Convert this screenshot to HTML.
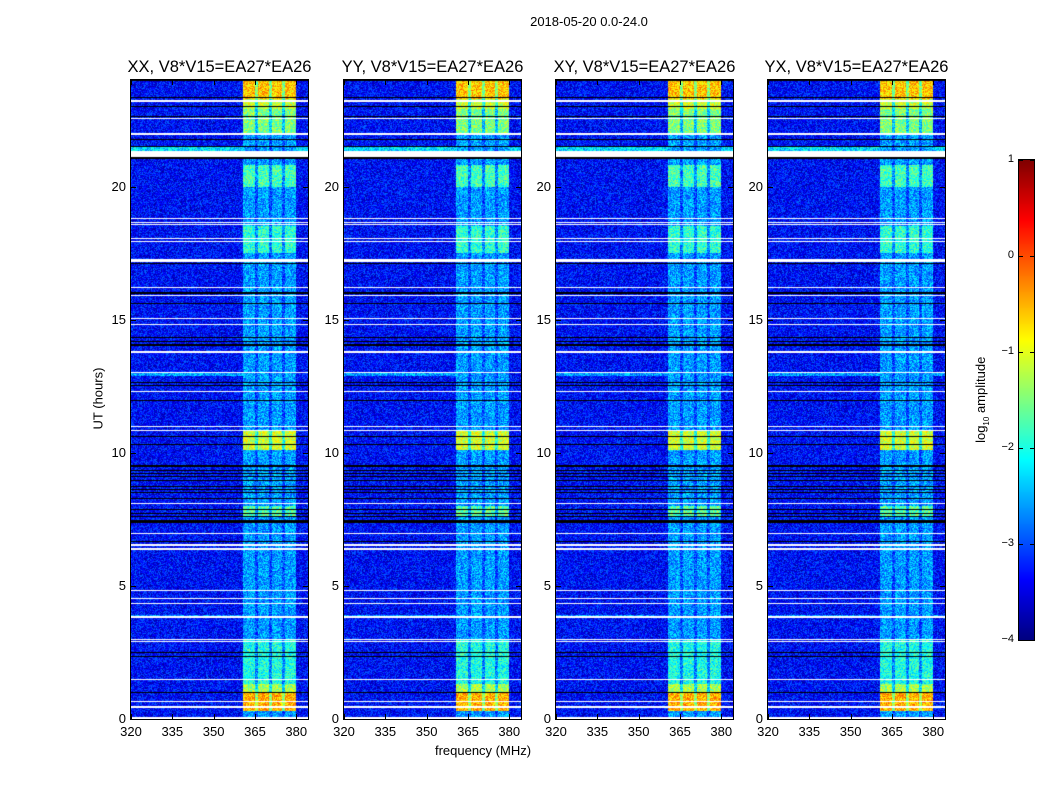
<!DOCTYPE html>
<html><head><meta charset="utf-8">
<style>
body{margin:0;background:#fff;font-family:"Liberation Sans",sans-serif;}
#fig{position:relative;width:1050px;height:800px;background:#fff;overflow:hidden;}
.t{position:absolute;white-space:nowrap;color:#000;}
canvas{position:absolute;}
</style></head>
<body>
<div id="fig">
<div class="t" style="left:489px;top:14px;width:200px;text-align:center;font-size:13px;">2018-05-20 0.0-24.0</div>
<div class="t" style="left:383px;top:743px;width:200px;text-align:center;font-size:13px;">frequency (MHz)</div>
<div class="t" style="left:48px;top:391px;width:100px;text-align:center;font-size:13px;transform:rotate(-90deg);">UT (hours)</div>
<div class="t" style="left:922px;top:391px;width:120px;text-align:center;font-size:13px;transform:rotate(-90deg);">log<sub style="font-size:8px">10</sub> amplitude</div>
</div>
<script>
const categories=['XX','YY','XY','YX'];
const panelLeft=[131,344,556,768];
const xTicks=[320,335,350,365,380];
const yTicks=[0,5,10,15,20];
const cbTicks=[1,0,-1,-2,-3,-4];
const baseLevel=-3.35;
const bandLevel=-2.6;
const gapLevel=-3.0;
const subBands=[[360.7,365.0],[366.2,370.2],[371.3,374.8],[376.0,379.8]];
const brightSegments=[[23.3,24,-0.6],[22.9,23.3,-1.1],[22.0,22.9,-1.5],[20.0,20.8,-1.8],[17.5,18.5,-1.9],[10.1,10.8,-1.1],[0.3,1.0,-0.5],[1.0,1.3,-1.3],[1.3,3.0,-2.0],[7.6,8.0,-1.7]];
const cyanRows=[[21.35,21.5,-2.3],[3.78,3.9,-2.7],[12.9,13.05,-2.6]];
const whiteRows=[[23.18,23.24],[22.52,22.58],[21.95,22.0],[21.1,21.35],[18.78,18.82],[18.64,18.68],[18.55,18.59],[18.03,18.07],[17.93,17.97],[17.15,17.28],[16.18,16.22],[15.88,15.92],[15.03,15.07],[14.78,14.82],[13.75,13.82],[12.98,13.02],[12.28,12.32],[10.98,11.02],[10.83,10.87],[8.08,8.12],[6.95,6.99],[6.5,6.56],[6.35,6.41],[4.79,4.83],[4.51,4.55],[4.32,4.36],[3.81,3.85],[2.98,3.02],[2.88,2.92],[1.48,1.52],[0.63,0.67],[0.43,0.47],[0,0.07]];
const blackRows=[[23.97,24],[23.33,23.37],[22.98,23.02],[22.61,22.65],[21.74,21.78],[21.48,21.52],[21.04,21.1],[17.24,17.29],[17.1,17.14],[15.98,16.02],[15.6,15.63],[14.3,14.33],[14.22,14.25],[14.15,14.18],[14.06,14.1],[14.0,14.03],[12.62,12.66],[12.5,12.54],[12.08,12.11],[11.95,11.99],[10.6,10.63],[10.3,10.33],[9.48,9.53],[9.33,9.37],[9.2,9.23],[9.08,9.11],[8.95,8.98],[8.85,8.88],[8.72,8.75],[8.6,8.63],[8.48,8.52],[8.36,8.39],[8.27,8.3],[7.95,7.98],[7.85,7.88],[7.7,7.73],[7.6,7.63],[7.38,7.46],[6.63,6.67],[2.48,2.52],[2.31,2.35],[0.98,1.03]];
const PW=177,PTOP=80,PH=639,FMIN=320,FMAX=384.25,HMAX=24;
const fig=document.getElementById('fig');
function xs(f,l){return l+(f-FMIN)/(FMAX-FMIN)*PW;}
function ys(h){return PTOP+PH-(h/HMAX)*PH;}
function jet(v){v=Math.max(0,Math.min(1,v));
 const r=Math.max(0,Math.min(1,Math.min(4*v-1.5,-4*v+4.5)));
 const g=Math.max(0,Math.min(1,Math.min(4*v-0.5,-4*v+3.5)));
 const b=Math.max(0,Math.min(1,Math.min(4*v+0.5,-4*v+2.5)));
 return [r*255|0,g*255|0,b*255|0];}
function hash(a,b,c){let n=(a*374761393+b*668265263+c*982451653)|0;n=(n^(n>>>13))*1274126177|0;return ((n^(n>>>16))>>>0)/4294967295;}
function inRows(list,h){for(const r of list){if(h>=r[0]&&h<=r[1])return r;}return null;}
function mk(tag,name,css){const e=document.createElement(tag);
 
 
 e.style.cssText=css;fig.appendChild(e);return e;}
categories.forEach((cat,pi)=>{
 const L=panelLeft[pi];
 const c=mk('canvas','heatmap-'+cat.toLowerCase(),'left:'+L+'px;top:'+PTOP+'px;');
 c.width=PW;c.height=PH;
 const ctx=c.getContext('2d');const img=ctx.createImageData(PW,PH);
 for(let py=0;py<PH;py++){
  const h=HMAX*(1-(py+0.5)/PH);
  const w=inRows(whiteRows,h),bk=inRows(blackRows,h);
  let seg=null;for(const s of brightSegments){if(h>=s[0]&&h<s[1]){seg=s;break;}}
  const cy=inRows(cyanRows,h);
  for(let px=0;px<PW;px++){
   const f=FMIN+(px+0.5)/PW*(FMAX-FMIN);
   let rgb;
   if(w)rgb=[255,255,255];
   else if(bk)rgb=[0,0,0];
   else{
    let v=baseLevel;
    if(cy&&!(pi<2&&cy[2]<-2.5&&f>362))v=cy[2];
    let inBand=false;
    for(const sb of subBands){if(f>=sb[0]&&f<=sb[1])inBand=true;}
    if(f>=360.7&&f<=380){v=inBand?(seg?seg[2]:bandLevel):(seg?Math.max(seg[2]-0.9,-2.7):gapLevel);}
    const n=hash(px,py,pi)-0.5;
    v+=n*1.0;
    rgb=jet((v+4)/5);
   }
   const k=(py*PW+px)*4;img.data[k]=rgb[0];img.data[k+1]=rgb[1];img.data[k+2]=rgb[2];img.data[k+3]=255;
  }
 }
 ctx.putImageData(img,0,0);
 mk('div','axes-frame-'+cat.toLowerCase(),'left:'+(L-1)+'px;top:'+(PTOP-1)+'px;width:'+(PW+2)+'px;height:'+(PH+2)+'px;border:1px solid #000;position:absolute;box-sizing:border-box;');
 const t=mk('div','panel-title-'+cat.toLowerCase(),'position:absolute;left:'+(L-40)+'px;top:58px;width:'+(PW+80)+'px;text-align:center;font-size:16.5px;white-space:nowrap;');
 t.textContent=cat+', V8*V15=EA27*EA26';
 xTicks.forEach(v=>{const x=xs(v,L);
  mk('div','x-tick','position:absolute;left:'+Math.round(x)+'px;top:'+(PTOP+PH-5)+'px;width:1px;height:5px;background:#000;');
  mk('div','x-tick','position:absolute;left:'+Math.round(x)+'px;top:'+PTOP+'px;width:1px;height:5px;background:#000;');
  const lb=mk('div','x-tick-label','position:absolute;left:'+(x-20)+'px;top:724px;width:40px;text-align:center;font-size:13px;');
  lb.textContent=v;});
 yTicks.forEach(v=>{const y=ys(v);
  mk('div','y-tick','position:absolute;left:'+L+'px;top:'+Math.round(y)+'px;width:5px;height:1px;background:#000;');
  mk('div','y-tick','position:absolute;left:'+(L+PW-5)+'px;top:'+Math.round(y)+'px;width:5px;height:1px;background:#000;');
  const lb=mk('div','y-tick-label','position:absolute;left:'+(L-45)+'px;top:'+(y-8)+'px;width:40px;text-align:right;font-size:13px;');
  lb.textContent=v;});
});
const CBL=1019,CBT=160,CBW=15,CBH=480;
const cb=mk('canvas','colorbar','left:'+CBL+'px;top:'+CBT+'px;');
cb.width=CBW;cb.height=CBH;
const cctx=cb.getContext('2d');
for(let y=0;y<CBH;y++){const rgb=jet(1-(y+0.5)/CBH);cctx.fillStyle='rgb('+rgb.join(',')+')';cctx.fillRect(0,y,CBW,1);}
mk('div','colorbar-frame','position:absolute;left:'+(CBL-1)+'px;top:'+(CBT-1)+'px;width:'+(CBW+2)+'px;height:'+(CBH+2)+'px;border:1px solid #000;box-sizing:border-box;');
cbTicks.forEach(v=>{const y=CBT+(1-v)/5*CBH;
 const lb=mk('div','colorbar-tick-label','position:absolute;left:970px;top:'+(y-7)+'px;width:44px;text-align:right;font-size:11px;');
 lb.textContent=(v<0?'\u2212'+(-v):''+v);
 mk('div','colorbar-tick','position:absolute;left:'+CBL+'px;top:'+Math.round(y)+'px;width:4px;height:1px;background:#000;');
 mk('div','colorbar-tick','position:absolute;left:'+(CBL+CBW-4)+'px;top:'+Math.round(y)+'px;width:4px;height:1px;background:#000;');
});
</script>
</body></html>
